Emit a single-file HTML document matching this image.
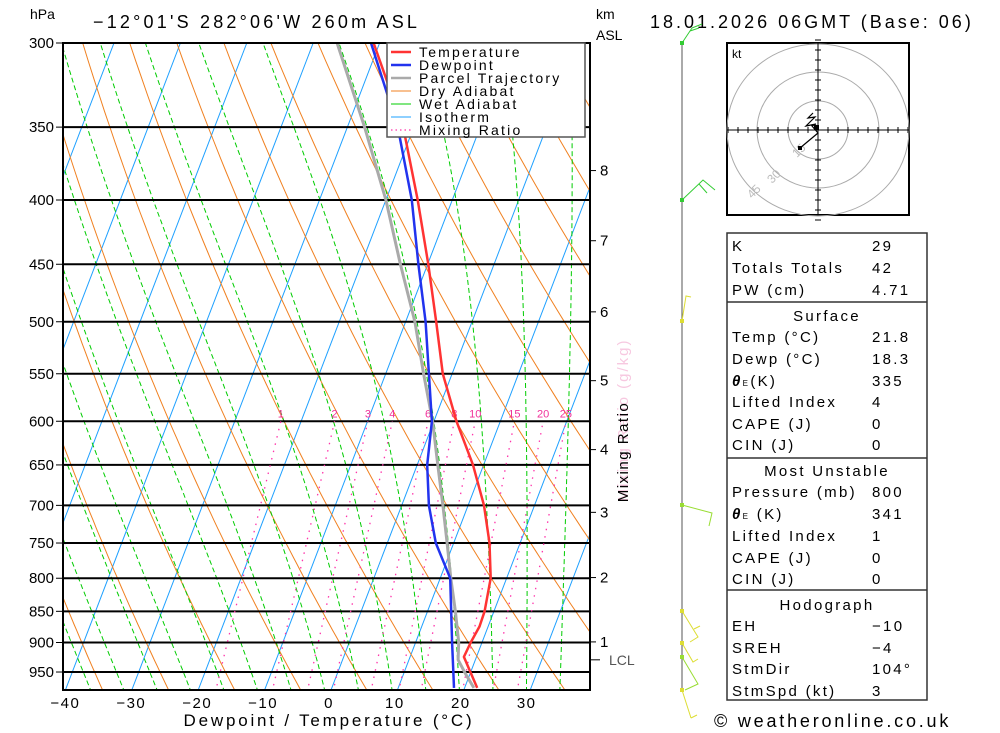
<!DOCTYPE html>
<html><head><meta charset="utf-8"><style>
html,body{margin:0;padding:0;background:#fff;}
svg{display:block;font-family:"Liberation Sans","DejaVu Sans",sans-serif;}
</style></head><body>
<svg id="chart" width="1000" height="733" viewBox="0 0 1000 733" xmlns="http://www.w3.org/2000/svg">
<defs><clipPath id="plotclip"><rect x="63" y="43" width="527" height="647"/></clipPath></defs>
<rect x="0" y="0" width="1000" height="733" fill="#fff"/>
<g id="bg" clip-path="url(#plotclip)"></g>
<g id="levels"></g>
<g id="mix" clip-path="url(#plotclip)"></g>
<g id="series" clip-path="url(#plotclip)"></g>
<rect x="63" y="43" width="527" height="647" fill="none" stroke="#000" stroke-width="2"/>
<g id="axes"></g>

<text x="30" y="19" font-size="14">hPa</text>
<text x="93" y="28" font-size="18" letter-spacing="3.2">−12°01'S 282°06'W 260m ASL</text>
<text x="596" y="19" font-size="14">km</text>
<text x="596" y="40" font-size="14">ASL</text>
<text x="650" y="28" font-size="18" letter-spacing="3">18.01.2026 06GMT (Base: 06)</text>
<text x="329" y="726" font-size="17" text-anchor="middle" letter-spacing="2.8">Dewpoint / Temperature (°C)</text>

<g>
<text transform="translate(628,420) rotate(-90)" font-size="15" fill="#f7c8e0" text-anchor="middle" letter-spacing="2">Mixing Ratio (g/kg)</text>
<text transform="translate(628,452) rotate(-90)" font-size="15" fill="#000" text-anchor="middle" letter-spacing="1.5">Mixing Ratio</text>
</g>

<!-- legend -->
<g>
<rect x="387" y="43" width="198" height="94" fill="#fff" stroke="#555" stroke-width="1.5"/>
<g font-size="14" letter-spacing="2.2">
<line x1="391" y1="52" x2="411" y2="52" stroke="#f33" stroke-width="2.5"/><text x="419" y="57">Temperature</text>
<line x1="391" y1="65" x2="411" y2="65" stroke="#2233ee" stroke-width="2.5"/><text x="419" y="70">Dewpoint</text>
<line x1="391" y1="78" x2="411" y2="78" stroke="#aaa" stroke-width="2.5"/><text x="419" y="83">Parcel Trajectory</text>
<line x1="391" y1="91" x2="411" y2="91" stroke="#f08020" stroke-width="1"/><text x="419" y="96">Dry Adiabat</text>
<line x1="391" y1="104" x2="411" y2="104" stroke="#0c0" stroke-width="1"/><text x="419" y="109">Wet Adiabat</text>
<line x1="391" y1="117" x2="411" y2="117" stroke="#1ea0ff" stroke-width="1"/><text x="419" y="122">Isotherm</text>
<line x1="391" y1="130" x2="411" y2="130" stroke="#f3a" stroke-width="1.2" stroke-dasharray="1.5,3"/><text x="419" y="135">Mixing Ratio</text>
</g></g>

<!-- wind barbs -->
<g stroke-width="1">
<line x1="682" y1="43" x2="682" y2="690" stroke="#555"/>
<path d="M682,43 L692,28 M692,28 L702,24 M690,31 L699,28" stroke="#3c3" fill="none"/>
<path d="M682,200 L703,180 L715,190 M699,184 L707,193" stroke="#3c3" fill="none"/>
<path d="M682,321 L686,296 L691,297" stroke="#dd3" fill="none"/>
<path d="M682,505 L712,513 L709,526" stroke="#9d3" fill="none"/>
<path d="M682,611 L698,637 L690,642 M694,629 L700,626" stroke="#dd3" fill="none"/>
<path d="M682,643 L693,662 L698,659" stroke="#dd3" fill="none"/>
<path d="M682,657 L698,684 L685,690" stroke="#9d3" fill="none"/>
<path d="M682,690 L691,718 M691,718 L697,715" stroke="#dd3" fill="none"/>
<g fill="#3c3"><rect x="680" y="41" width="4" height="4"/><rect x="680" y="198" width="4" height="4"/></g>
<g fill="#dd3"><rect x="680" y="319" width="4" height="4"/><rect x="680" y="609" width="4" height="4"/><rect x="680" y="641" width="4" height="4"/><rect x="680" y="688" width="4" height="4"/></g>
<rect x="680" y="503" width="4" height="4" fill="#9d3"/><rect x="680" y="655" width="4" height="4" fill="#9d3"/>
</g>

<!-- hodograph -->
<g>
<rect x="727" y="43" width="182" height="172" fill="#fff" stroke="#000" stroke-width="2"/>
<text x="732" y="58" font-size="12">kt</text>
<g fill="none" stroke="#aaa" stroke-width="1">
<ellipse cx="818" cy="130" rx="30" ry="29"/><ellipse cx="818" cy="130" rx="61" ry="58"/><ellipse cx="818" cy="130" rx="91" ry="86"/>
</g>
<line x1="727" y1="130" x2="909" y2="130" stroke="#000"/>
<line x1="818" y1="43" x2="818" y2="215" stroke="#000"/>
<path id="hticks" stroke="#000" fill="none"/>
<g fill="#bbb" font-size="12"><text transform="translate(797,158) rotate(-45)">15</text><text transform="translate(772,184) rotate(-45)">30</text><text transform="translate(752,199) rotate(-45)">45</text></g>
<polyline points="800,148 818,133 812,126 816,124 806,126 815,117 808,118 813,113" fill="none" stroke="#000" stroke-width="1.2"/>
<rect x="798" y="146" width="4" height="4" fill="#000"/><rect x="814" y="125" width="5" height="5" fill="#000"/>
</g>

<!-- table -->
<g font-size="15" letter-spacing="2.3">
<rect x="727" y="233" width="200" height="467" fill="#fff" stroke="#333" stroke-width="1.5"/>
<line x1="727" y1="302" x2="927" y2="302" stroke="#333" stroke-width="1.5"/>
<line x1="727" y1="458" x2="927" y2="458" stroke="#333" stroke-width="1.5"/>
<line x1="727" y1="590" x2="927" y2="590" stroke="#333" stroke-width="1.5"/>
<text x="732" y="251">K</text><text x="872" y="251">29</text>
<text x="732" y="273">Totals Totals</text><text x="872" y="273">42</text>
<text x="732" y="295">PW (cm)</text><text x="872" y="295">4.71</text>
<text x="827" y="321" text-anchor="middle">Surface</text>
<text x="732" y="342">Temp (°C)</text><text x="872" y="342">21.8</text>
<text x="732" y="364">Dewp (°C)</text><text x="872" y="364">18.3</text>
<text x="732" y="386"><tspan font-style="italic" font-weight="bold">θ</tspan><tspan font-size="8">E</tspan>(K)</text><text x="872" y="386">335</text>
<text x="732" y="407">Lifted Index</text><text x="872" y="407">4</text>
<text x="732" y="429">CAPE (J)</text><text x="872" y="429">0</text>
<text x="732" y="450">CIN (J)</text><text x="872" y="450">0</text>
<text x="827" y="476" text-anchor="middle">Most Unstable</text>
<text x="732" y="497">Pressure (mb)</text><text x="872" y="497">800</text>
<text x="732" y="519"><tspan font-style="italic" font-weight="bold">θ</tspan><tspan font-size="8">E</tspan> (K)</text><text x="872" y="519">341</text>
<text x="732" y="541">Lifted Index</text><text x="872" y="541">1</text>
<text x="732" y="563">CAPE (J)</text><text x="872" y="563">0</text>
<text x="732" y="584">CIN (J)</text><text x="872" y="584">0</text>
<text x="827" y="610" text-anchor="middle">Hodograph</text>
<text x="732" y="631">EH</text><text x="872" y="631">−10</text>
<text x="732" y="653">SREH</text><text x="872" y="653">−4</text>
<text x="732" y="674">StmDir</text><text x="872" y="674">104°</text>
<text x="732" y="696">StmSpd (kt)</text><text x="872" y="696">3</text>
</g>
<text x="714" y="727" font-size="18" letter-spacing="2.8">© weatheronline.co.uk</text>

<script>
// ---- data ----
const pressureLevels = [300,350,400,450,500,550,600,650,700,750,800,850,900,950];
const tempTicks = [-40,-30,-20,-10,0,10,20,30];
const kmLabels = [8,7,6,5,4,3,2,1];
const kmPressures = [379,431,491,557,632,709,799,899];
const mixingRatios = [1,2,3,4,6,8,10,15,20,25];
const tempP = [978,924,900,874,850,800,750,700,650,600,550,500,450,400,350,300];
const tempT = [21.9,18.1,18.3,18.7,18.6,17.6,15.4,12.4,8.4,3.4,-1.4,-5.4,-9.9,-15.2,-21.6,-30.9];
const dewP = [978,900,800,750,700,650,600,550,500,450,400,350,300];
const dewT = [18.4,15.5,11.5,7.3,4.1,1.5,-0.3,-3.5,-7.0,-11.4,-16.1,-22.4,-31.3];
const parcelP = [978,954,929,900,850,800,750,700,650,600,550,500,450,400,350,300];
const parcelT = [21.4,19.4,17.4,16.5,14.2,11.6,9.0,6.2,3.1,-0.2,-4.3,-8.6,-14.1,-20.0,-27.4,-36.4];

// ---- axes ----
const NS='http://www.w3.org/2000/svg';
const Y0=43, PS=545.7, PX=331, SC=6.64, SK=0.383, YB=690;
function yP(p){return Y0+PS*Math.log(p/300);}
function xT(t,y){return PX+SC*t+SK*(YB-y);}
function mk(tag,attrs,parent){const e=document.createElementNS(NS,tag);for(const k in attrs)e.setAttribute(k,attrs[k]);parent.appendChild(e);return e;}
const bg=document.getElementById('bg'), lv=document.getElementById('levels'), mx=document.getElementById('mix'), se=document.getElementById('series'), ax=document.getElementById('axes');

for(let t=-120;t<=50;t+=10){
  const l=mk('line',{x1:xT(t,YB),y1:YB,x2:xT(t,Y0),y2:Y0,stroke:'#1ea0ff','stroke-width':1},bg);
  
  
}
for(let th=230;th<=480;th+=10){
  let d='';
  for(let p=1000;p>=290;p-=10){const T=th*Math.pow(p/1000,0.286)-273.15;const y=yP(p);d+=(d?'L':'M')+xT(T,y).toFixed(1)+','+y.toFixed(1);}
  const e=mk('path',{d:d,fill:'none',stroke:'#f08020','stroke-width':1},bg);
  
  
}
function es(tc){return 6.112*Math.exp(17.67*tc/(tc+243.5));}
for(let t0=-40;t0<=40;t0+=5){
  let T=t0+273.15, p=1000, d='';
  while(p>=290){
    const y=yP(p);d+=(d?'L':'M')+xT(T-273.15,y).toFixed(1)+','+y.toFixed(1);
    const e=es(T-273.15), rs=0.622*e/(p-e);
    const dTdp=(287*T+2.5e6*rs)/(1004+2.5e6*2.5e6*rs*0.622/(287*T*T))/p;
    T-=dTdp*5;p-=5;
  }
  const e=mk('path',{d:d,fill:'none',stroke:'#0c0','stroke-width':1,'stroke-dasharray':'5,3'},bg);
  
  
}
function tdFromW(w,p){const e=w*p/(622+w);const a=Math.log(e/6.112);return 243.5*a/(17.67-a);}
mixingRatios.forEach(w=>{
  const y1=yP(1000),y2=yP(600);
  const l=mk('line',{x1:xT(tdFromW(w,1000),y1),y1:y1,x2:xT(tdFromW(w,600),y2),y2:y2,stroke:'#f3a','stroke-width':1.3,'stroke-dasharray':'1.5,6'},mx);
  
  
  const tx=mk('text',{x:xT(tdFromW(w,600),y2),y:y2-4,'font-size':11,fill:'#f0309a','text-anchor':'middle'},mx);
  tx.textContent=w;
  
  
});
pressureLevels.forEach(p=>{
  const y=yP(p);
  const l=mk('line',{x1:63,y1:y,x2:590,y2:y,stroke:'#000','stroke-width':2},lv);
  
  
  const t=mk('text',{x:54,y:y+5,'font-size':15,'text-anchor':'end'},ax);
  t.textContent=p;
  
  
  mk('line',{x1:56,y1:y,x2:63,y2:y,stroke:'#000'},ax);
});
tempTicks.forEach(t=>{
  const x=329+6.59*t;
  const e=mk('text',{x:x,y:708,'font-size':15,'text-anchor':'middle','letter-spacing':'1.5'},ax);
  e.textContent=(t<0?'−':'')+Math.abs(t);
  
  
});
kmLabels.forEach((k,i)=>{
  const y=yP(kmPressures[i]);
  mk('line',{x1:590,y1:y,x2:596,y2:y,stroke:'#000'},ax);
  const e=mk('text',{x:600,y:y+5,'font-size':15},ax);
  e.textContent=k;
  
  
});
{const y=yP(929);mk('line',{x1:590,y1:y,x2:600,y2:y,stroke:'#000'},ax);
 const e=mk('text',{x:609,y:y+5,'font-size':14,fill:'#555'},ax);e.textContent='LCL';
 
 }
function line(P,T,color,w,name){
  let d='';P.forEach((p,i)=>{const y=yP(p);d+=(i?'L':'M')+xT(T[i],y).toFixed(1)+','+y.toFixed(1);});
  const e=mk('path',{d:d,fill:'none',stroke:color,'stroke-width':w,'stroke-linejoin':'round'},se);
  
  
}
line(parcelP,parcelT,'#aaa',3,'parcel-trajectory-line');
line(dewP,dewT,'#2233ee',2.5,'dewpoint-line');
line(tempP,tempT,'#f33',2.5,'temperature-line');
let hd='';for(let i=-9;i<=9;i++){if(!i)continue;hd+='M'+(818+i*10)+',127L'+(818+i*10)+',133M815,'+(130+i*10)+'L821,'+(130+i*10);}
document.getElementById('hticks').setAttribute('d',hd);
</script>
</svg>
</body></html>
